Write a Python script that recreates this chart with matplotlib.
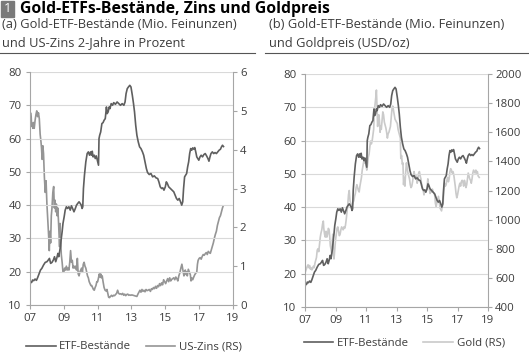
import matplotlib
matplotlib.use("Agg")
import matplotlib.pyplot as plt
from matplotlib.patches import Rectangle
from matplotlib.lines import Line2D

plt.rcParams["font.family"] = ["Open Sans", "DejaVu Sans"]

# ETF holdings (Mio. Feinunzen)
etf_years = [
    2007.00, 2007.05, 2007.10, 2007.15, 2007.22, 2007.30, 2007.38, 2007.45, 2007.55, 2007.62,
    2007.70, 2007.80, 2007.90, 2008.00, 2008.08, 2008.15, 2008.22, 2008.30, 2008.38, 2008.45,
    2008.52, 2008.58, 2008.65, 2008.70, 2008.75, 2008.80, 2008.85, 2008.90, 2008.95, 2009.02,
    2009.08, 2009.15, 2009.22, 2009.30, 2009.38, 2009.45, 2009.52, 2009.60, 2009.68, 2009.75,
    2009.82, 2009.90, 2009.97, 2010.03, 2010.08, 2010.12, 2010.16, 2010.22, 2010.30, 2010.38,
    2010.45, 2010.52, 2010.58, 2010.63, 2010.68, 2010.73, 2010.80, 2010.86, 2010.92, 2010.98,
    2011.05, 2011.08, 2011.12, 2011.18, 2011.25, 2011.32, 2011.38, 2011.45, 2011.52, 2011.56,
    2011.62, 2011.68, 2011.73, 2011.80, 2011.88, 2011.95, 2012.05, 2012.15, 2012.25, 2012.35,
    2012.45, 2012.55, 2012.62, 2012.68, 2012.75, 2012.82, 2012.90, 2012.97, 2013.05, 2013.12,
    2013.18, 2013.25, 2013.32, 2013.40, 2013.48, 2013.56, 2013.65, 2013.72, 2013.80, 2013.88,
    2013.95, 2014.05, 2014.15, 2014.25, 2014.35, 2014.45, 2014.55, 2014.62, 2014.70, 2014.78,
    2014.85, 2014.92, 2015.00, 2015.06, 2015.12, 2015.20, 2015.30, 2015.40, 2015.50, 2015.58,
    2015.66, 2015.74, 2015.82, 2015.90, 2015.97, 2016.03, 2016.08, 2016.14, 2016.20, 2016.26,
    2016.32, 2016.38, 2016.44, 2016.50, 2016.56, 2016.62, 2016.68, 2016.74, 2016.80, 2016.86,
    2016.92, 2016.98, 2017.05, 2017.12, 2017.20, 2017.28, 2017.36, 2017.44, 2017.52, 2017.58,
    2017.64, 2017.70, 2017.78, 2017.86, 2017.94, 2018.02, 2018.10, 2018.18, 2018.26, 2018.32,
    2018.38, 2018.44,
]
etf_values = [
    16.0, 17.0, 16.8, 17.5, 17.3, 17.8, 17.4, 18.2, 19.5, 20.5,
    21.0, 22.0, 22.8, 23.0, 23.5, 24.0, 22.5, 22.8, 23.5, 24.5,
    23.0, 24.0, 25.5, 24.5, 26.0, 27.5, 30.0, 32.0, 34.5, 36.5,
    38.5, 39.5, 39.0, 39.5, 38.5, 39.8, 39.0, 38.0, 39.0, 40.0,
    40.5, 41.0, 40.5, 40.0, 39.0, 39.5, 45.0, 49.0, 53.0, 55.5,
    56.0, 55.0, 56.0, 55.0, 56.2, 54.5, 55.0, 54.0, 54.8, 53.5,
    52.0, 60.0, 61.0, 62.0, 64.5, 64.8, 65.5, 66.0, 69.5, 67.5,
    68.0, 69.5, 69.0, 70.5, 70.0, 70.8, 70.3, 71.0, 70.5, 70.0,
    70.5, 70.0, 71.0, 73.5, 75.0, 75.5, 76.0, 75.5, 73.0, 70.5,
    68.0, 64.0, 61.0, 59.0, 57.5, 57.0, 56.0, 55.0, 53.0, 51.0,
    49.8, 49.2, 49.5, 48.5, 48.8, 48.2, 48.0, 47.0, 45.5, 45.0,
    45.2, 44.5, 45.5, 47.0, 46.5, 45.5, 45.0, 44.5, 44.0, 43.0,
    42.0, 41.5, 42.0, 41.0, 40.0, 41.0, 45.0, 48.5, 49.0, 49.5,
    51.5, 53.0, 55.5, 57.0, 56.5, 57.2, 56.8, 57.3, 56.0, 54.5,
    54.0, 53.5, 54.5, 55.0, 54.5, 55.2, 55.5, 54.8, 54.0, 53.2,
    54.5, 55.5, 56.0, 55.5, 55.8, 55.5, 56.0, 56.5, 56.8, 57.5,
    58.0, 57.6,
]

# US 2-year yield (%)
rate_years = [
    2007.00, 2007.03, 2007.07, 2007.10, 2007.13, 2007.17, 2007.20, 2007.25, 2007.30, 2007.35,
    2007.40, 2007.45, 2007.50, 2007.55, 2007.60, 2007.65, 2007.68, 2007.72, 2007.76, 2007.80,
    2007.85, 2007.90, 2007.95, 2008.00, 2008.05, 2008.10, 2008.14, 2008.18, 2008.22, 2008.26,
    2008.30, 2008.35, 2008.40, 2008.44, 2008.48, 2008.52, 2008.56, 2008.60, 2008.64, 2008.68,
    2008.72, 2008.75, 2008.78, 2008.81, 2008.85, 2008.90, 2008.95, 2009.00, 2009.05, 2009.10,
    2009.15, 2009.20, 2009.25, 2009.30, 2009.35, 2009.40, 2009.45, 2009.50, 2009.55, 2009.60,
    2009.65, 2009.70, 2009.75, 2009.80, 2009.85, 2009.90, 2009.95, 2010.00, 2010.05, 2010.10,
    2010.15, 2010.20, 2010.25, 2010.30, 2010.35, 2010.40, 2010.45, 2010.50, 2010.55, 2010.60,
    2010.65, 2010.70, 2010.75, 2010.80, 2010.85, 2010.90, 2010.95, 2011.00, 2011.05, 2011.10,
    2011.14, 2011.18, 2011.22, 2011.27, 2011.32, 2011.38, 2011.44, 2011.50, 2011.55, 2011.60,
    2011.65, 2011.70, 2011.76, 2011.82, 2011.88, 2011.94, 2012.00, 2012.06, 2012.12, 2012.18,
    2012.24, 2012.30, 2012.36, 2012.42, 2012.48, 2012.54, 2012.60, 2012.66, 2012.72, 2012.78,
    2012.84, 2012.90, 2012.96, 2013.02, 2013.10, 2013.18, 2013.26, 2013.32, 2013.38, 2013.44,
    2013.50, 2013.56, 2013.62, 2013.68, 2013.74, 2013.80, 2013.86, 2013.92, 2013.98, 2014.05,
    2014.12, 2014.18, 2014.24, 2014.30, 2014.36, 2014.42, 2014.48, 2014.54, 2014.60, 2014.66,
    2014.72, 2014.78, 2014.84, 2014.90, 2014.96, 2015.02, 2015.08, 2015.14, 2015.20, 2015.26,
    2015.32, 2015.38, 2015.44, 2015.50, 2015.56, 2015.62, 2015.68, 2015.74, 2015.80, 2015.86,
    2015.92, 2015.98, 2016.02, 2016.06, 2016.10, 2016.14, 2016.18, 2016.22, 2016.26, 2016.30,
    2016.36, 2016.42, 2016.48, 2016.52, 2016.56, 2016.62, 2016.68, 2016.74, 2016.80, 2016.86,
    2016.90, 2016.94, 2017.00, 2017.06, 2017.12, 2017.18, 2017.24, 2017.30, 2017.36, 2017.42,
    2017.48, 2017.54, 2017.60, 2017.66, 2017.72, 2017.78, 2017.84, 2017.90, 2017.96, 2018.02,
    2018.08, 2018.14, 2018.20, 2018.26, 2018.32, 2018.38, 2018.42,
]
rate_values = [
    4.80, 4.95, 4.85, 4.60, 4.65, 4.55, 4.70, 4.55, 4.75, 4.90,
    5.00, 4.85, 4.95, 4.80, 4.40, 4.20, 4.05, 3.75, 4.10, 3.90,
    3.30, 2.90, 3.20, 2.60, 2.20, 1.80, 1.40, 1.90, 1.60, 2.30,
    2.50, 2.90, 3.05, 2.50, 2.70, 2.40, 2.60, 2.30, 2.50, 2.20,
    1.80, 1.50, 2.10, 1.70, 1.30, 1.10, 0.85, 0.85, 0.95, 0.90,
    1.00, 0.90, 0.95, 0.90, 1.10, 1.40, 1.10, 1.15, 0.95, 1.00,
    0.95, 1.00, 0.90, 1.20, 0.80, 0.75, 0.85, 0.90, 0.95, 0.85,
    1.05, 1.10, 1.00, 0.95, 0.85, 0.75, 0.70, 0.60, 0.55, 0.50,
    0.50, 0.45, 0.40, 0.38, 0.45, 0.50, 0.60, 0.60, 0.70, 0.80,
    0.72, 0.80, 0.70, 0.75, 0.60, 0.45, 0.38, 0.36, 0.40, 0.30,
    0.20, 0.19, 0.22, 0.25, 0.22, 0.25, 0.24, 0.27, 0.30, 0.38,
    0.30, 0.28, 0.29, 0.27, 0.30, 0.25, 0.28, 0.24, 0.27, 0.28,
    0.25, 0.26, 0.25, 0.26, 0.25, 0.24, 0.23, 0.22, 0.28, 0.33,
    0.38, 0.33, 0.40, 0.35, 0.38, 0.34, 0.40, 0.37, 0.38, 0.40,
    0.35, 0.42, 0.40, 0.45, 0.42, 0.48, 0.43, 0.50, 0.47, 0.55,
    0.50, 0.57, 0.52, 0.65, 0.60, 0.55, 0.62, 0.68, 0.60, 0.70,
    0.62, 0.66, 0.68, 0.70, 0.65, 0.72, 0.68, 0.62, 0.75, 0.83,
    0.95, 1.05, 0.95, 0.85, 0.75, 0.78, 0.90, 0.80, 0.85, 0.75,
    0.92, 0.85, 0.78, 0.62, 0.70, 0.65, 0.72, 0.78, 0.82, 0.85,
    1.05, 1.15, 1.20, 1.22, 1.18, 1.25, 1.30, 1.28, 1.32, 1.35,
    1.30, 1.38, 1.35, 1.33, 1.42, 1.50, 1.60, 1.72, 1.82, 1.90,
    2.05, 2.15, 2.25, 2.30, 2.40, 2.50, 2.55,
]

# Gold price (USD/oz)
gold_years = [
    2007.00, 2007.05, 2007.10, 2007.15, 2007.20, 2007.25, 2007.30, 2007.35, 2007.40, 2007.45,
    2007.50, 2007.55, 2007.60, 2007.65, 2007.70, 2007.75, 2007.80, 2007.85, 2007.90, 2007.95,
    2008.00, 2008.05, 2008.10, 2008.15, 2008.20, 2008.23, 2008.28, 2008.33, 2008.38, 2008.43,
    2008.48, 2008.53, 2008.58, 2008.62, 2008.66, 2008.70, 2008.75, 2008.78, 2008.82, 2008.86,
    2008.90, 2008.95, 2009.00, 2009.05, 2009.10, 2009.15, 2009.20, 2009.25, 2009.30, 2009.35,
    2009.40, 2009.45, 2009.50, 2009.55, 2009.60, 2009.65, 2009.70, 2009.75, 2009.80, 2009.85,
    2009.90, 2009.95, 2010.00, 2010.05, 2010.10, 2010.15, 2010.20, 2010.25, 2010.30, 2010.35,
    2010.40, 2010.45, 2010.50, 2010.55, 2010.60, 2010.65, 2010.70, 2010.75, 2010.80, 2010.85,
    2010.90, 2010.95, 2011.00, 2011.05, 2011.10, 2011.15, 2011.20, 2011.25, 2011.30, 2011.35,
    2011.40, 2011.45, 2011.50, 2011.55, 2011.60, 2011.65, 2011.68, 2011.72, 2011.76, 2011.80,
    2011.84, 2011.88, 2011.92, 2011.96, 2012.00, 2012.05, 2012.10, 2012.15, 2012.20, 2012.25,
    2012.30, 2012.35, 2012.40, 2012.45, 2012.50, 2012.55, 2012.60, 2012.65, 2012.70, 2012.75,
    2012.80, 2012.85, 2012.90, 2012.95, 2013.00, 2013.05, 2013.10, 2013.15, 2013.20, 2013.25,
    2013.28, 2013.33, 2013.38, 2013.42, 2013.46, 2013.50, 2013.55, 2013.60, 2013.65, 2013.70,
    2013.75, 2013.80, 2013.85, 2013.90, 2013.95, 2014.00, 2014.05, 2014.10, 2014.15, 2014.20,
    2014.25, 2014.30, 2014.35, 2014.40, 2014.45, 2014.50, 2014.55, 2014.60, 2014.65, 2014.70,
    2014.75, 2014.80, 2014.85, 2014.90, 2014.95, 2015.00, 2015.05, 2015.10, 2015.15, 2015.20,
    2015.25, 2015.30, 2015.35, 2015.40, 2015.45, 2015.50, 2015.55, 2015.60, 2015.65, 2015.70,
    2015.75, 2015.80, 2015.85, 2015.90, 2015.95, 2016.00, 2016.05, 2016.10, 2016.15, 2016.20,
    2016.25, 2016.30, 2016.35, 2016.40, 2016.45, 2016.50, 2016.55, 2016.60, 2016.65, 2016.70,
    2016.75, 2016.80, 2016.85, 2016.90, 2016.95, 2017.00, 2017.05, 2017.10, 2017.15, 2017.20,
    2017.25, 2017.30, 2017.35, 2017.40, 2017.45, 2017.50, 2017.55, 2017.60, 2017.65, 2017.70,
    2017.75, 2017.80, 2017.85, 2017.90, 2017.95, 2018.00, 2018.05, 2018.10, 2018.15, 2018.20,
    2018.25, 2018.30, 2018.35, 2018.42,
]
gold_values = [
    635, 650, 665, 680, 690, 670, 685, 660, 670, 655,
    665, 680, 670, 700, 720, 740, 790, 800, 780, 830,
    880, 910, 930, 970, 990, 940, 900, 880, 920, 880,
    900, 940, 930, 880, 820, 800, 770, 830, 900, 760,
    730, 800, 860, 900, 940, 950, 920, 890, 900, 930,
    950, 940, 930, 950, 940, 960, 1000, 1050, 1100, 1170,
    1200, 1130, 1110, 1090, 1100, 1120, 1130, 1160, 1180, 1220,
    1240, 1220, 1200, 1190, 1230, 1260, 1290, 1340, 1370, 1400,
    1390, 1410, 1370, 1340, 1380, 1430, 1450, 1500, 1540, 1520,
    1540, 1580, 1620, 1750, 1800, 1850, 1890, 1780, 1640, 1700,
    1720, 1680, 1600, 1640, 1620, 1680, 1740, 1720, 1670, 1650,
    1630, 1600, 1560, 1590, 1600, 1620, 1640, 1700, 1760, 1780,
    1750, 1720, 1690, 1680, 1670, 1660, 1620, 1600, 1580, 1560,
    1420, 1440, 1380, 1390, 1240, 1290, 1230, 1330, 1390, 1350,
    1320, 1300, 1280, 1240, 1220, 1230, 1260, 1300, 1330, 1300,
    1290, 1300, 1250, 1270, 1320, 1330, 1300, 1280, 1230, 1220,
    1200, 1170, 1200, 1190, 1200, 1220, 1280, 1240, 1210, 1180,
    1200, 1190, 1210, 1190, 1180, 1170, 1110, 1090, 1120, 1140,
    1160, 1120, 1080, 1070, 1060, 1090, 1110, 1200, 1250, 1230,
    1240, 1270, 1290, 1260, 1280, 1330, 1350, 1340, 1320, 1330,
    1310, 1270, 1230, 1180, 1150, 1170, 1200, 1230, 1250, 1230,
    1260, 1270, 1260, 1230, 1270, 1250, 1220, 1240, 1280, 1320,
    1300, 1280, 1270, 1250, 1280, 1320, 1340, 1330, 1320, 1340,
    1320, 1330, 1300, 1290,
]

year_ticks = [2007, 2009, 2011, 2013, 2015, 2017, 2019]
year_labels = ["07", "09", "11", "13", "15", "17", "19"]

c_etf = "#5f5f5f"
c_rate = "#959595"
c_gold = "#cacaca"
c_axis = "#a6a6a6"
c_grid = "#d9d9d9"
c_text = "#3c3c3c"
fs_tick = 8.2
fs_sub = 9.3

fig = plt.figure(figsize=(5.29, 3.53), dpi=100)


def style(ax, ax2, left_ticks, right_ticks):
    ax.set_xlim(2007, 2019)
    ax.set_ylim(10, 80)
    ax.set_yticks(left_ticks)
    ax.set_xticks(year_ticks)
    ax.set_xticklabels(year_labels)
    ax.grid(axis="y", color=c_grid, lw=0.8)
    ax.set_axisbelow(True)
    for s in ["top", "right"]:
        ax.spines[s].set_visible(False)
    for s in ["left", "bottom"]:
        ax.spines[s].set_color(c_axis)
        ax.spines[s].set_linewidth(0.8)
    ax.tick_params(colors=c_axis, labelcolor=c_text, labelsize=fs_tick, length=3, width=0.8, pad=3)
    ax2.set_yticks(right_ticks)
    for s in ["top", "left", "bottom"]:
        ax2.spines[s].set_visible(False)
    ax2.spines["right"].set_color(c_axis)
    ax2.spines["right"].set_linewidth(0.8)
    ax2.tick_params(colors=c_axis, labelcolor=c_text, labelsize=fs_tick, length=3, width=0.8, pad=2)


# panel (a)
ax = fig.add_axes([0.0567, 0.136, 0.3837, 0.660])
ax2 = ax.twinx()
ax2.set_ylim(0, 6)
style(ax, ax2, [10, 20, 30, 40, 50, 60, 70, 80], [0, 1, 2, 3, 4, 5, 6])
ax2.plot(rate_years, rate_values, color=c_rate, lw=1.2)
ax.set_zorder(ax2.get_zorder() + 1)
ax.patch.set_visible(False)
ax.plot(etf_years, etf_values, color=c_etf, lw=1.2)

# panel (b)
bx = fig.add_axes([0.5766, 0.1303, 0.346, 0.660])
bx2 = bx.twinx()
bx2.set_ylim(400, 2000)
style(bx, bx2, [10, 20, 30, 40, 50, 60, 70, 80], [400, 600, 800, 1000, 1200, 1400, 1600, 1800, 2000])
bx2.plot(gold_years, gold_values, color=c_gold, lw=1.2)
bx.set_zorder(bx2.get_zorder() + 1)
bx.patch.set_visible(False)
bx.plot(etf_years, etf_values, color=c_etf, lw=1.2)

# legends
leg_kw = dict(loc="center", ncol=2, frameon=False, fontsize=fs_tick, handlelength=2.6,
              handletextpad=0.3, columnspacing=1.3, labelcolor=c_text)
fig.legend([Line2D([], [], color=c_etf, lw=1.2), Line2D([], [], color=c_rate, lw=1.2)],
           ["ETF-Bestände", "US-Zins (RS)"], bbox_to_anchor=(0.253, 0.017), **leg_kw)
fig.legend([Line2D([], [], color=c_etf, lw=1.2), Line2D([], [], color=c_gold, lw=1.2)],
           ["ETF-Bestände", "Gold (RS)"], bbox_to_anchor=(0.764, 0.028), **leg_kw)

# title block
fig.patches.append(Rectangle((0.002, 1 - 17 / 353), 13 / 529, 16 / 353, transform=fig.transFigure,
                             color="#7a7a7a", zorder=5))
fig.text(0.0145, 1 - 9 / 353, "1", color="white", fontsize=9.5, ha="center", va="center", zorder=6)
fig.text(20 / 529, 1 - 9 / 353, "Gold-ETFs-Bestände, Zins und Goldpreis", fontsize=11.3,
         fontweight="bold", color="black", va="center")

fig.text(2 / 529, 1 - 25 / 353, "(a) Gold-ETF-Bestände (Mio. Feinunzen)", fontsize=fs_sub,
         color=c_text, va="center")
fig.text(2 / 529, 1 - 43 / 353, "und US-Zins 2-Jahre in Prozent", fontsize=fs_sub,
         color=c_text, va="center")
fig.text(269 / 529, 1 - 25 / 353, "(b) Gold-ETF-Bestände (Mio. Feinunzen)", fontsize=fs_sub,
         color=c_text, va="center")
fig.text(269 / 529, 1 - 43 / 353, "und Goldpreis (USD/oz)", fontsize=fs_sub,
         color=c_text, va="center")
fig.lines.append(Line2D([0.0, 255 / 529], [1 - 53 / 353] * 2, transform=fig.transFigure,
                        color="#555555", lw=0.8))
fig.lines.append(Line2D([265 / 529, 1.0], [1 - 53 / 353] * 2, transform=fig.transFigure,
                        color="#555555", lw=0.8))

fig.savefig("out.png", dpi=100)
